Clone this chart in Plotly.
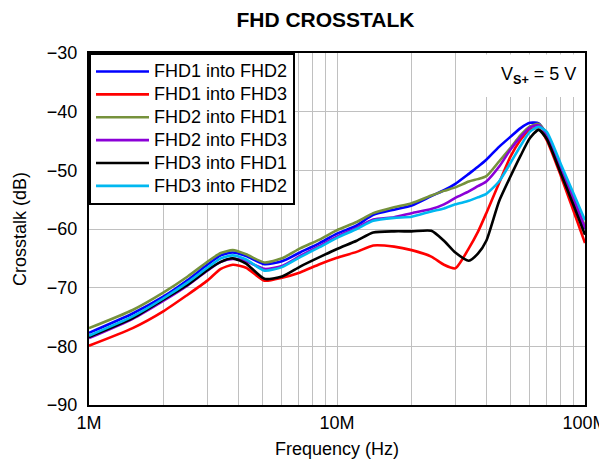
import plotly.graph_objects as go

freq_mhz = [1, 1.5, 2, 2.5, 3, 3.4, 3.8, 4.3, 5.1, 6, 7.1, 8.5, 10, 12, 14, 17, 20,
            24, 27, 30, 34, 37, 40, 45, 50, 55, 60, 65, 70, 80, 90, 100]

fhd1_into_fhd2 = [-77.7, -74.4, -71.5, -68.7, -66.1, -64.5, -64.0, -64.6, -66.0, -65.5, -64.0,
                  -62.4, -60.8, -59.4, -57.6, -56.7, -56.0, -54.4, -53.4, -52.3, -50.6, -49.4,
                  -48.2, -46.0, -44.3, -42.8, -41.9, -42.0, -44.0, -50.0, -55.2, -60.0]
fhd1_into_fhd3 = [-79.9, -76.9, -74.0, -71.2, -68.8, -66.8, -66.1, -66.6, -68.8, -68.3, -67.4,
                  -66.0, -64.9, -63.9, -62.8, -63.0, -63.6, -64.7, -66.1, -66.7, -63.3, -60.5,
                  -57.3, -52.2, -47.7, -44.8, -43.0, -42.9, -44.8, -51.0, -57.0, -62.4]
fhd2_into_fhd1 = [-76.9, -73.8, -70.8, -68.1, -65.6, -64.1, -63.6, -64.3, -65.7, -65.0, -63.3,
                  -61.8, -60.2, -58.8, -57.3, -56.3, -55.6, -54.3, -53.5, -52.9, -51.9, -51.5,
                  -51.0, -48.5, -46.2, -44.0, -42.5, -42.1, -43.8, -49.8, -55.0, -59.5]
fhd2_into_fhd3 = [-78.6, -75.3, -72.2, -69.6, -67.1, -65.6, -65.1, -65.5, -66.8, -66.3, -64.6,
                  -62.9, -61.3, -59.8, -58.4, -58.0, -57.3, -56.6, -55.8, -54.7, -53.6, -52.7,
                  -51.9, -49.4, -46.5, -44.3, -42.7, -42.3, -43.7, -49.6, -54.8, -59.9]
fhd3_into_fhd1 = [-78.4, -75.2, -72.0, -69.5, -67.0, -65.6, -65.0, -65.9, -68.5, -68.1, -66.4,
                  -64.8, -63.4, -62.0, -60.6, -60.4, -60.4, -60.3, -62.0, -64.0, -65.4, -64.2,
                  -62.0, -55.3, -51.1, -47.5, -44.5, -43.1, -44.6, -50.6, -56.0, -61.0]
fhd3_into_fhd2 = [-78.2, -74.9, -71.8, -69.1, -66.6, -65.0, -64.5, -65.2, -67.1, -66.5, -64.8,
                  -63.1, -61.5, -60.0, -58.6, -58.1, -57.9, -57.0, -56.5, -55.8, -55.2, -54.6,
                  -54.0, -51.9, -48.8, -45.8, -43.4, -42.6, -43.4, -49.0, -54.0, -58.5]

series = [
    ("FHD1 into FHD2", fhd1_into_fhd2, "#0000FF"),
    ("FHD1 into FHD3", fhd1_into_fhd3, "#FF0000"),
    ("FHD2 into FHD1", fhd2_into_fhd1, "#76923C"),
    ("FHD2 into FHD3", fhd2_into_fhd3, "#8B00D7"),
    ("FHD3 into FHD1", fhd3_into_fhd1, "#000000"),
    ("FHD3 into FHD2", fhd3_into_fhd2, "#00B8F0"),
]

x_tick_vals = [m * 10 ** e for e in (6, 7) for m in range(1, 10)] + [1e8]
x_tick_text = ["1M", "", "", "", "", "", "", "", "", "10M", "", "", "", "", "", "", "", "", "100M"]
y_tick_vals = [-90, -80, -70, -60, -50, -40, -30]

freq_hz = [f * 1e6 for f in freq_mhz]

FONT = "Arial, Liberation Sans, sans-serif"

fig = go.Figure()
for name, vals, color in series:
    fig.add_trace(go.Scatter(
        x=freq_hz, y=vals, mode="lines",
        name="<span style='font-size:18px'>" + name + "</span>",
        line=dict(color=color, width=2.6, shape="spline", smoothing=0.6),
    ))

fig.update_layout(
    width=599, height=453,
    margin=dict(l=81, r=22, t=45, b=56, autoexpand=False),
    paper_bgcolor="white", plot_bgcolor="white",
    font=dict(family=FONT, size=18, color="black"),
    title=dict(text="<b>FHD CROSSTALK</b>", x=0.530, xref="container", xanchor="center",
               y=0.975, yref="container", yanchor="middle",
               font=dict(family=FONT, size=21, color="black")),
    showlegend=True,
    legend=dict(x=0, y=1, xref="paper", yref="paper", xanchor="left", yanchor="top",
                bgcolor="white", bordercolor="black", borderwidth=2,
                font=dict(family=FONT, size=15.3, color="black"),
                itemwidth=53, tracegroupgap=0),
    xaxis=dict(type="log", range=[6, 8], tickvals=x_tick_vals, ticktext=x_tick_text,
               showgrid=True, gridcolor="#C0C0C0", gridwidth=1,
               showline=True, linecolor="black", linewidth=2, mirror=True,
               ticks="", tickfont=dict(size=18), automargin=False, ticklabeloverflow="allow",
               title=dict(text="Frequency (Hz)", font=dict(size=18), standoff=11),
               zeroline=False),
    yaxis=dict(range=[-90, -30], tickvals=y_tick_vals,
               showgrid=True, gridcolor="#C0C0C0", gridwidth=1,
               showline=True, linecolor="black", linewidth=2, mirror=True,
               ticks="", tickfont=dict(size=18), automargin=False, ticklabelstandoff=6,
               title=dict(text="Crosstalk (dB)", font=dict(size=18), standoff=16),
               zeroline=False),
    shapes=[dict(type="rect", xref="paper", yref="paper",
                 x0=0.77, x1=0.996, y0=0.875, y1=0.996,
                 fillcolor="white", line=dict(width=0), layer="above")],
    annotations=[dict(text="V<sub><b>S+</b></sub> = 5 V", xref="paper", yref="paper",
                      x=0.986, y=0.975, xanchor="right", yanchor="top", showarrow=False,
                      font=dict(family=FONT, size=18, color="black"))],
)

fig.write_html("out.html")
